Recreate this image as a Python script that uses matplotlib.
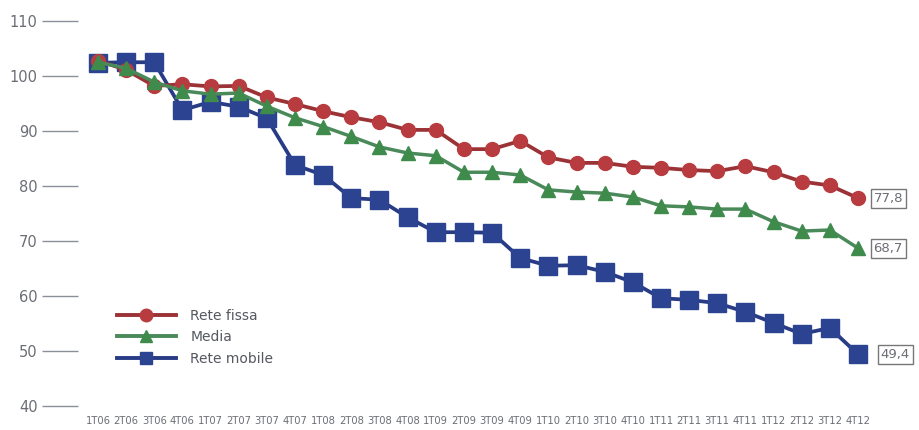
import matplotlib
matplotlib.use("Agg")
import matplotlib.pyplot as plt
from matplotlib.lines import Line2D

categories = ["1T06", "2T06", "3T06", "4T06", "1T07", "2T07", "3T07", "4T07",
              "1T08", "2T08", "3T08", "4T08", "1T09", "2T09", "3T09", "4T09",
              "1T10", "2T10", "3T10", "4T10", "1T11", "2T11", "3T11", "4T11",
              "1T12", "2T12", "3T12", "4T12"]

rete_fissa = [102.8, 101.1, 98.2, 98.5, 98.1, 98.2, 96.1, 94.9,
              93.6, 92.5, 91.6, 90.2, 90.2, 86.7, 86.7, 88.2,
              85.2, 84.2, 84.2, 83.5, 83.3, 82.9, 82.7, 83.6,
              82.5, 80.8, 80.1, 77.8]

media = [102.5, 101.4, 98.9, 97.3, 96.7, 96.9, 94.5, 92.4,
         90.8, 89.0, 87.1, 86.0, 85.5, 82.5, 82.5, 82.0,
         79.3, 78.9, 78.7, 78.0, 76.4, 76.2, 75.8, 75.8,
         73.5, 71.8, 72.0, 68.7]

rete_mobile = [102.4, 102.5, 102.5, 93.8, 95.3, 94.4, 92.3, 83.8,
               82.0, 77.8, 77.5, 74.3, 71.6, 71.6, 71.5, 66.9,
               65.5, 65.6, 64.4, 62.5, 59.6, 59.3, 58.7, 57.1,
               55.1, 53.1, 54.2, 49.4]

y_ticks = [40, 50, 60, 70, 80, 90, 100, 110]
end_labels = ["77,8", "68,7", "49,4"]

W, H = 920, 430
fig = plt.figure(figsize=(W / 100, H / 100), dpi=100)
left_px, right_px, top_px, bottom_px = 78, 885, 21, 406
ax = fig.add_axes([left_px / W, 1 - bottom_px / H,
                   (right_px - left_px) / W, (bottom_px - top_px) / H])

x = list(range(len(categories)))
red_line, red_mk = "#9a3236", "#b83c3f"
green_line, green_mk = "#4a8a5a", "#3e8b4c"
blue_line, blue_mk = "#283c86", "#2c4391"

ax.plot(x, rete_mobile, color=blue_line, lw=2.7, marker="s", markersize=12.5,
        markerfacecolor=blue_mk, markeredgecolor=blue_mk, zorder=2)
ax.plot(x, rete_fissa, color=red_line, lw=2.7, marker="o", markersize=10,
        markerfacecolor=red_mk, markeredgecolor=red_mk, zorder=3)
ax.plot(x, media, color=green_line, lw=2.5, marker="^", markersize=10,
        markerfacecolor=green_mk, markeredgecolor=green_mk, zorder=4)

x_per_px = 1 / 28.15
ax.set_xlim(-20 * x_per_px, 27 + (right_px - 858) * x_per_px)
ax.set_ylim(40, 110)

for s in ax.spines.values():
    s.set_visible(False)

ax.set_yticks(y_ticks)
ax.set_yticklabels([str(v) for v in y_ticks])
ax.tick_params(axis="y", length=26, width=1.0, color="#8a8f99", pad=3,
               labelsize=10.5, labelcolor="#6b6e75")
ax.set_xticks(x)
ax.set_xticklabels(categories)
ax.tick_params(axis="x", length=0, pad=7, labelsize=7.2, labelcolor="#6b6e75")

# end value boxes
ends = [rete_fissa[-1], media[-1], rete_mobile[-1]]
offs = [0.55, 0.55, 0.8]
for val, lab, off in zip(ends, end_labels, offs):
    ax.text(27 + off, val, lab, ha="left", va="center", fontsize=9.5,
            color="#6b6e75", clip_on=False,
            bbox=dict(boxstyle="square,pad=0.22", fc="white", ec="#777777", lw=1))

handles = [
    Line2D([], [], color=red_line, lw=2.8, marker="o", markersize=9,
           markerfacecolor=red_mk, markeredgecolor=red_mk),
    Line2D([], [], color=green_line, lw=2.8, marker="^", markersize=8,
           markerfacecolor=green_mk, markeredgecolor=green_mk),
    Line2D([], [], color=blue_line, lw=2.8, marker="s", markersize=8,
           markerfacecolor=blue_mk, markeredgecolor=blue_mk),
]
leg = ax.legend(handles, ["Rete fissa", "Media", "Rete mobile"],
                loc="upper left", bbox_to_anchor=((111 - left_px) / (right_px - left_px),
                                                  (bottom_px - 303) / (bottom_px - top_px)),
                frameon=False, fontsize=10, handlelength=4.3, labelspacing=0.55,
                handletextpad=1.0, borderaxespad=0)
for t in leg.get_texts():
    t.set_color("#55585f")

fig.savefig("out.png", dpi=100, facecolor="white")
